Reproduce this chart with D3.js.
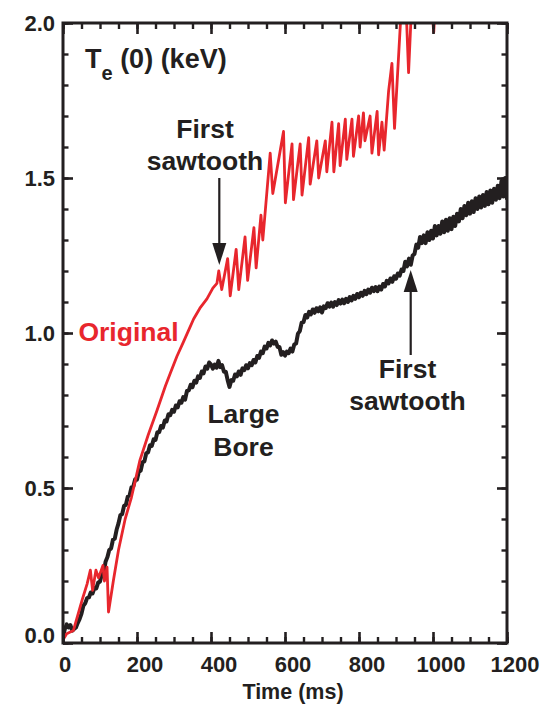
<!DOCTYPE html>
<html>
<head>
<meta charset="utf-8">
<script src="https://cdn.jsdelivr.net/npm/d3@7"></script>
<style>
  html, body { margin: 0; padding: 0; background: #fff; }
  svg { display: block; font-family: "Liberation Sans", Arial, Helvetica, sans-serif; font-weight: bold; }
</style>
</head>
<body>
<svg id="chart" width="558" height="706"></svg>
<script>
// Axis ticks
const xTicks = [0, 200, 400, 600, 800, 1000, 1200];
const yTicks = [0.0, 0.5, 1.0, 1.5, 2.0];
const yTickLabels = ["0.0", "0.5", "1.0", "1.5", "2.0"];

// Central electron temperature, original configuration: [time (ms), Te(0) (keV)]
const originalSeries = [
  [0, 0.01], [10, 0.03], [28, 0.04], [40, 0.09], [52, 0.14], [65, 0.19], [74, 0.235],
  [80, 0.17], [89, 0.235], [96, 0.21], [108, 0.25], [112, 0.20], [119, 0.245], [123, 0.10],
  [136, 0.20], [150, 0.30], [168, 0.40], [185, 0.47], [208, 0.59], [230, 0.67], [254, 0.75],
  [277, 0.83], [290, 0.87], [308, 0.925], [325, 0.97], [340, 1.01], [353, 1.045], [370, 1.08],
  [389, 1.11], [405, 1.145], [416, 1.16],
  [421, 1.20], [429, 1.14], [445, 1.24], [452, 1.12], [468, 1.27], [475, 1.14], [492, 1.31],
  [499, 1.17], [516, 1.34], [522, 1.21], [535, 1.38], [540, 1.30], [560, 1.58], [567, 1.45],
  [596, 1.65], [601, 1.42], [619, 1.61], [623, 1.43], [641, 1.61], [646, 1.445], [664, 1.63],
  [668, 1.48], [686, 1.62], [691, 1.50], [709, 1.62], [713, 1.52], [727, 1.68], [732, 1.52],
  [745, 1.675], [749, 1.54], [763, 1.69], [767, 1.56], [781, 1.69], [785, 1.57], [799, 1.70],
  [803, 1.60], [812, 1.71], [816, 1.62], [830, 1.70], [835, 1.58], [849, 1.715], [853, 1.575],
  [862, 1.68], [868, 1.59], [880, 1.78], [889, 1.87], [896, 1.66], [912, 2.0], [918, 2.1],
  [925, 2.12], [934, 1.84], [943, 2.08], [990, 2.15], [1002, 1.97], [1010, 2.15]
];

// Central electron temperature, large-bore configuration, sampled every 5 ms from t = 0
const largeBoreStart = 0;
const largeBoreStep = 5;
const largeBoreValues = [
  0.02, 0.045, 0.06, 0.05, 0.058, 0.04, 0.045, 0.05, 0.065, 0.078,
  0.095, 0.12, 0.128, 0.145, 0.147, 0.163, 0.16, 0.178, 0.176, 0.195,
  0.198, 0.222, 0.226, 0.262, 0.277, 0.30, 0.305, 0.333, 0.337, 0.366,
  0.386, 0.412, 0.416, 0.442, 0.446, 0.472, 0.476, 0.502, 0.505, 0.528,
  0.527, 0.552, 0.556, 0.583, 0.586, 0.612, 0.615, 0.638, 0.636, 0.657,
  0.655, 0.68, 0.68, 0.70, 0.695, 0.718, 0.715, 0.738, 0.735, 0.752,
  0.746, 0.766, 0.76, 0.78, 0.775, 0.793, 0.785, 0.813, 0.815, 0.833,
  0.825, 0.846, 0.84, 0.86, 0.855, 0.876, 0.87, 0.892, 0.885, 0.905,
  0.898, 0.885, 0.898, 0.888, 0.91, 0.89, 0.896, 0.875, 0.875, 0.848,
  0.826, 0.848, 0.846, 0.866, 0.86, 0.876, 0.865, 0.886, 0.88, 0.896,
  0.886, 0.903, 0.896, 0.913, 0.905, 0.926, 0.92, 0.94, 0.935, 0.956,
  0.95, 0.968, 0.96, 0.976, 0.966, 0.972, 0.955, 0.955, 0.93, 0.938,
  0.927, 0.94, 0.935, 0.95, 0.94, 0.963, 0.966, 0.998, 1.006, 1.033,
  1.035, 1.058, 1.05, 1.068, 1.06, 1.076, 1.065, 1.08, 1.07, 1.083,
  1.066, 1.086, 1.08, 1.096, 1.085, 1.098, 1.085, 1.10, 1.09, 1.106,
  1.095, 1.108, 1.096, 1.11, 1.10, 1.116, 1.105, 1.12, 1.11, 1.126,
  1.115, 1.13, 1.12, 1.136, 1.125, 1.14, 1.13, 1.146, 1.135, 1.148,
  1.135, 1.15, 1.14, 1.158, 1.15, 1.168, 1.16, 1.176, 1.165, 1.183,
  1.175, 1.192, 1.185, 1.205, 1.20, 1.23, 1.215, 1.24, 1.22, 1.25,
  1.255, 1.285, 1.275, 1.31, 1.29, 1.315, 1.29, 1.325, 1.30, 1.33,
  1.305, 1.345, 1.315, 1.345, 1.32, 1.36, 1.325, 1.365, 1.33, 1.37,
  1.335, 1.375, 1.345, 1.385, 1.36, 1.40, 1.37, 1.41, 1.38, 1.42,
  1.385, 1.425, 1.39, 1.435, 1.40, 1.44, 1.405, 1.445, 1.41, 1.455,
  1.415, 1.46, 1.42, 1.465, 1.43, 1.475, 1.435, 1.49, 1.44, 1.50,
  1.43
];

const RED = "#e8262d";
const INK = "#231f20";

const plot = { left: 63, right: 507, top: 23, bottom: 643 };
const x = d3.scaleLinear().domain([0, 1200]).range([plot.left, plot.right]);
const y = d3.scaleLinear().domain([0, 2]).range([plot.bottom, plot.top]);

const svg = d3.select("#chart");

svg.append("clipPath").attr("id", "plotClip")
  .append("rect")
  .attr("x", plot.left).attr("y", plot.top)
  .attr("width", plot.right - plot.left).attr("height", plot.bottom - plot.top);

const line = d3.line().x(d => x(d[0])).y(d => y(d[1]));
const boreData = largeBoreValues.map((v, i) => [largeBoreStart + i * largeBoreStep, v]);

const traces = svg.append("g").attr("clip-path", "url(#plotClip)");
traces.append("path").datum(boreData)
  .attr("d", line).attr("fill", "none")
  .attr("stroke", INK).attr("stroke-width", 4)
  .attr("stroke-linejoin", "round");
traces.append("path").datum(originalSeries)
  .attr("d", line).attr("fill", "none")
  .attr("stroke", RED).attr("stroke-width", 2.8)
  .attr("stroke-linejoin", "round");

// Inward ticks on all four sides
const minorX = d3.range(0, 1201, 50);
const minorY = d3.range(0, 20.5, 1).map(d => d / 10);

function styleTicks(g, width) {
  g.select(".domain").remove();
  g.selectAll(".tick line").attr("stroke", INK).attr("stroke-width", width);
}

svg.append("g").attr("transform", `translate(0,${plot.bottom})`)
  .call(d3.axisBottom(x).tickValues(minorX).tickSize(-6).tickFormat(""))
  .call(g => styleTicks(g, 2.4));
svg.append("g").attr("transform", `translate(0,${plot.top})`)
  .call(d3.axisTop(x).tickValues(minorX).tickSize(-6).tickFormat(""))
  .call(g => styleTicks(g, 2.4));
svg.append("g").attr("transform", `translate(${plot.left},0)`)
  .call(d3.axisLeft(y).tickValues(minorY).tickSize(-5.5).tickFormat(""))
  .call(g => styleTicks(g, 2.4));
svg.append("g").attr("transform", `translate(${plot.right},0)`)
  .call(d3.axisRight(y).tickValues(minorY).tickSize(-5.5).tickFormat(""))
  .call(g => styleTicks(g, 2.4));

const xAxis = svg.append("g").attr("transform", `translate(0,${plot.bottom})`)
  .call(d3.axisBottom(x).tickValues(xTicks).tickSize(-11).tickFormat(d => String(d)))
  .call(g => styleTicks(g, 2.6));
xAxis.selectAll(".tick text")
  .attr("fill", INK).attr("font-size", 22).attr("font-family", null)
  .attr("y", 29).attr("dy", 0)
  .attr("dx", d => d === 0 ? 1.5 : 7.5);

svg.append("g").attr("transform", `translate(0,${plot.top})`)
  .call(d3.axisTop(x).tickValues(xTicks).tickSize(-11).tickFormat(""))
  .call(g => styleTicks(g, 2.6));

const yAxis = svg.append("g").attr("transform", `translate(${plot.left},0)`)
  .call(d3.axisLeft(y).tickValues(yTicks).tickSize(-10).tickFormat((d, i) => yTickLabels[i]))
  .call(g => styleTicks(g, 2.6));
yAxis.selectAll(".tick text")
  .attr("fill", INK).attr("font-size", 22).attr("font-family", null)
  .attr("x", -8).attr("dy", d => d === 0 ? "0em" : "0.35em")
  .attr("y", d => d === 0 ? -1 : 0);

svg.append("g").attr("transform", `translate(${plot.right},0)`)
  .call(d3.axisRight(y).tickValues(yTicks).tickSize(-10).tickFormat(""))
  .call(g => styleTicks(g, 2.6));

// Frame
svg.append("rect")
  .attr("x", plot.left).attr("y", plot.top)
  .attr("width", plot.right - plot.left).attr("height", plot.bottom - plot.top)
  .attr("fill", "none").attr("stroke", INK).attr("stroke-width", 3);

// Axis title
svg.append("text")
  .attr("x", 293).attr("y", 699)
  .attr("text-anchor", "middle").attr("font-size", 21.5).attr("fill", INK)
  .text("Time (ms)");

// Quantity label: Te(0) (keV)
const te = svg.append("text").attr("x", 85).attr("y", 68).attr("fill", INK).attr("font-size", 27);
te.append("tspan").text("T");
te.append("tspan").attr("font-size", 20).attr("dy", 12).text("e");
te.append("tspan").attr("dy", -12).text(" (0) (keV)");

function label(lines, cx, baselines, color, size) {
  const t = svg.append("text").attr("text-anchor", "middle").attr("fill", color).attr("font-size", size);
  lines.forEach((s, i) => t.append("tspan").attr("x", cx).attr("y", baselines[i]).text(s));
}

label(["First", "sawtooth"], 205, [138, 170], INK, 26.5);
label(["First", "sawtooth"], 407.5, [378, 410], INK, 26.5);
label(["Original"], 128.5, [341], RED, 26.5);
label(["Large", "Bore"], 243.5, [423, 456], INK, 26.5);

// Arrows pointing at the first sawtooth crash of each trace
function arrow(xp, yFrom, yTip) {
  const dir = Math.sign(yTip - yFrom);
  const headLen = 22, headHalf = 7;
  svg.append("line")
    .attr("x1", xp).attr("x2", xp)
    .attr("y1", yFrom).attr("y2", yTip - dir * headLen)
    .attr("stroke", INK).attr("stroke-width", 2.2);
  svg.append("path")
    .attr("d", `M${xp},${yTip} L${xp - headHalf},${yTip - dir * headLen} L${xp + headHalf},${yTip - dir * headLen} Z`)
    .attr("fill", INK);
}
arrow(219.3, 178, 265);
arrow(410.7, 355, 270);
</script>
</body>
</html>
